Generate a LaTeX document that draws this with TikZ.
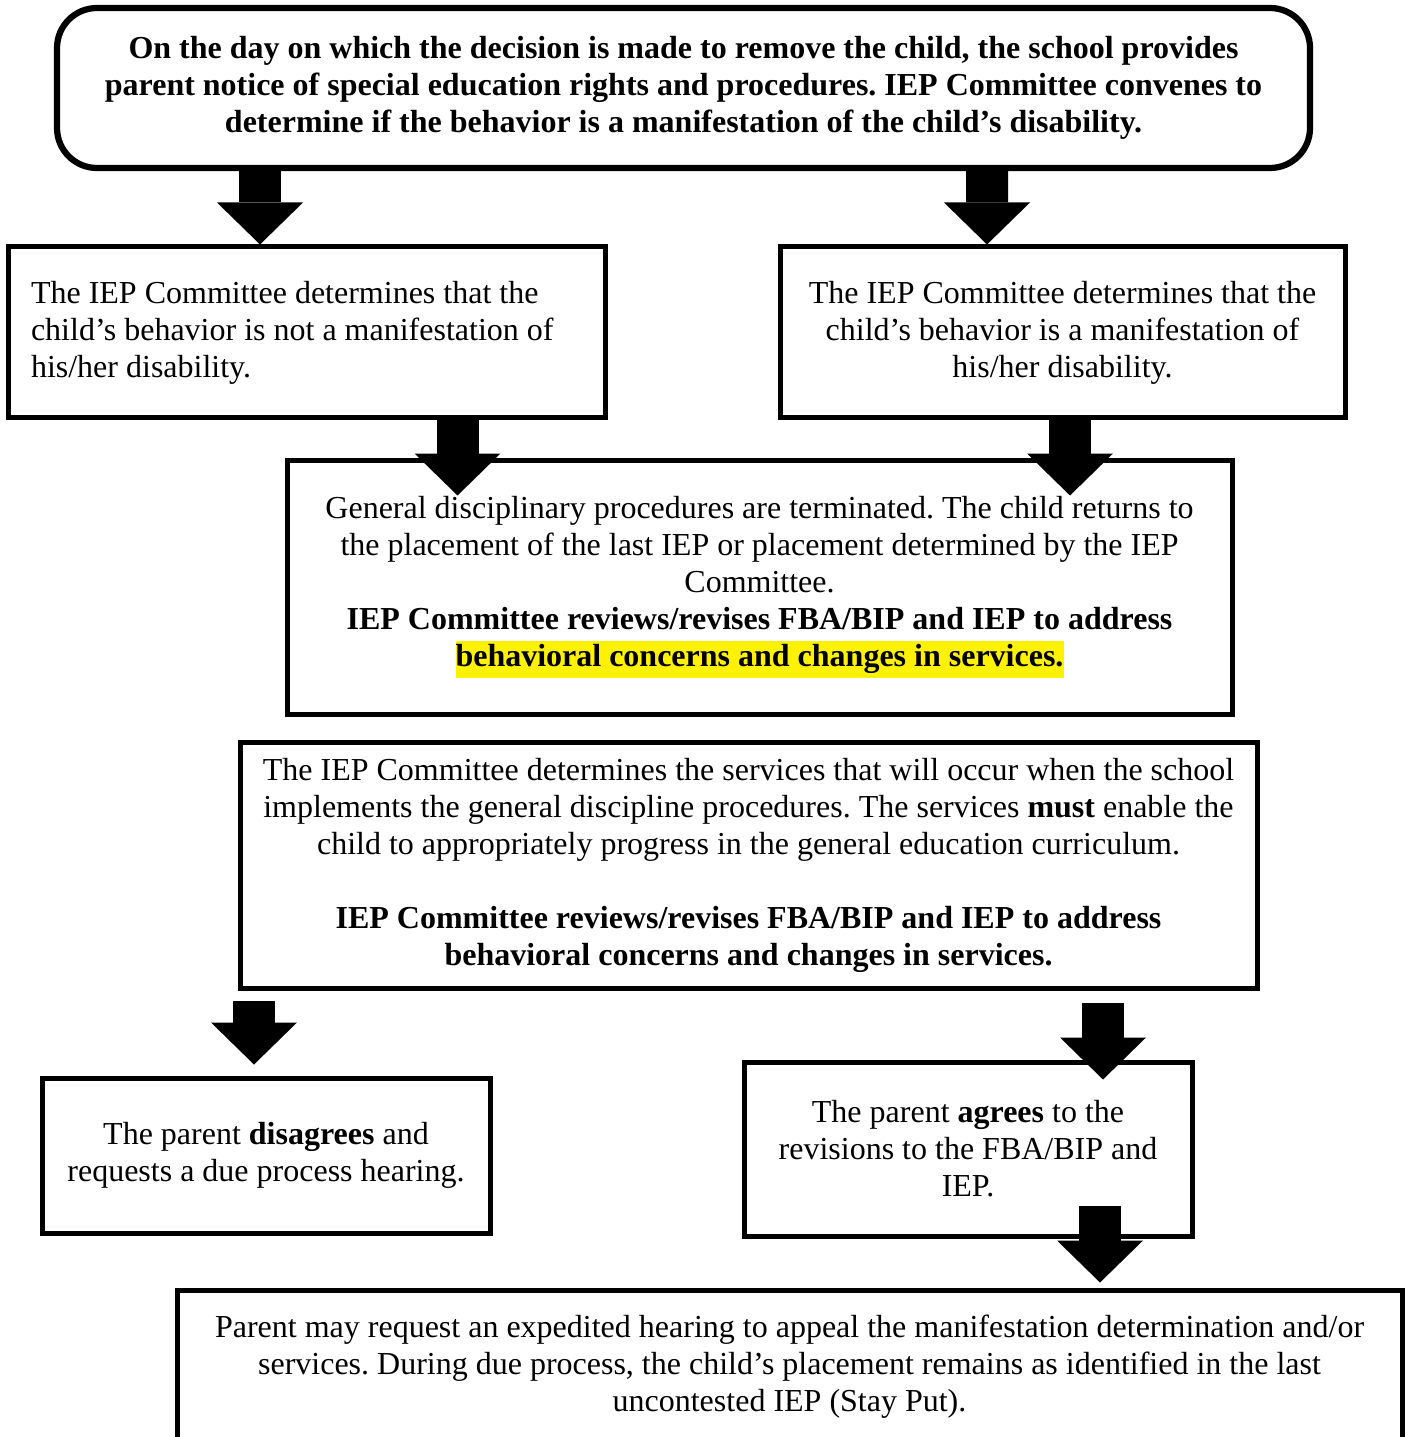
\documentclass[tikz,border=0pt]{standalone}
\usepackage{fontspec}
\setmainfont{Liberation Serif}
\usepackage{xcolor}
\usetikzlibrary{arrows.meta}
\frenchspacing

\newcommand{\hlite}[1]{{\setlength{\fboxsep}{0pt}\colorbox{yellow}{\strut #1}}}

\begin{document}
\begin{tikzpicture}
    \tikzstyle{topbox} = [rectangle, rounded corners=16pt, minimum width=501.2pt, minimum height=64pt, align=center, draw=black, line width=2.5pt, fill=white, font=\fontsize{12.8}{14.8}\selectfont\bfseries]
    \tikzstyle{stepbox} = [rectangle, align=center, draw=black, line width=2pt, fill=white, font=\fontsize{12.8}{14.8}\selectfont]
    \tikzstyle{bigarrow} = [line width=16.8pt, -{Triangle[width=34.4pt, length=16.8pt, line width'=0pt]}]

    \useasboundingbox (0,0) rectangle (562.4pt,-574.8pt);

    % Manifestation determination meeting
    \node [topbox] (meeting) at (273.4pt,-35.2pt) {On the day on which the decision is made to remove the child, the school provides\\ parent notice of special education rights and procedures. IEP Committee convenes to\\ determine if the behavior is a manifestation of the child’s disability.};

    % Committee decision
    \node [stepbox, align=flush left, text width=220.4pt, inner xsep=9.2pt, minimum height=68.4pt] (notmanif) at (122.6pt,-133pt) {The IEP Committee determines that the\\ child’s behavior is not a manifestation of\\ his/her disability.};
    \node [stepbox, minimum width=226pt, minimum height=68.4pt] (manif) at (425pt,-133pt) {The IEP Committee determines that the\\ child’s behavior is a manifestation of\\ his/her disability.};

    % Follow-up
    \node [stepbox, minimum width=378pt, minimum height=101.6pt] (terminated) at (303.8pt,-234.8pt) {General disciplinary procedures are terminated. The child returns to\\ the placement of the last IEP or placement determined by the IEP\\ Committee.\\ \textbf{IEP Committee reviews/revises FBA/BIP and IEP to address}\\ \textbf{\hlite{behavioral concerns and changes in services.}}};
    \node [stepbox, minimum width=406.8pt, minimum height=98.4pt] (services) at (299.4pt,-346pt) {The IEP Committee determines the services that will occur when the school\\ implements the general discipline procedures. The services \textbf{must} enable the\\ child to appropriately progress in the general education curriculum.\\[14.8pt] \textbf{IEP Committee reviews/revises FBA/BIP and IEP to address}\\ \textbf{behavioral concerns and changes in services.}};

    % Parent response
    \node [stepbox, minimum width=179.2pt, minimum height=62pt] (disagree) at (106.4pt,-462.2pt) {The parent \textbf{disagrees} and\\ requests a due process hearing.};
    \node [stepbox, minimum width=179.2pt, minimum height=69.6pt] (agree) at (387.2pt,-459.6pt) {The parent \textbf{agrees} to the\\ revisions to the FBA/BIP and\\ IEP.};

    % Appeal
    \node [stepbox, minimum width=490pt, minimum height=61.6pt] (appeal) at (315.8pt,-546.8pt) {Parent may request an expedited hearing to appeal the manifestation determination and/or\\ services. During due process, the child’s placement remains as identified in the last\\ uncontested IEP (Stay Put).};

    % Connections
    \draw [bigarrow] ([xshift=-169.4pt]meeting.south) -- ([xshift=-18.6pt]notmanif.north);
    \draw [bigarrow] ([xshift=121.4pt]meeting.south) -- ([xshift=-30.2pt]manif.north);

    \draw [bigarrow] ([xshift=60.4pt]notmanif.south) -- ([xshift=-120.8pt, yshift=-15.2pt]terminated.north);
    \draw [bigarrow] ([xshift=3pt]manif.south) -- ([xshift=124.2pt, yshift=-15.2pt]terminated.north);

    \draw [bigarrow] ([xshift=-197.8pt, yshift=-4pt]services.south) -- ([xshift=-4.8pt, yshift=4.4pt]disagree.north);
    \draw [bigarrow] ([xshift=141.8pt, yshift=-4.8pt]services.south) -- ([xshift=54pt, yshift=-8pt]agree.north);

    \draw [bigarrow] ([xshift=52.8pt, yshift=13.2pt]agree.south) -- ([xshift=124.2pt, yshift=2pt]appeal.north);
\end{tikzpicture}
\end{document}
